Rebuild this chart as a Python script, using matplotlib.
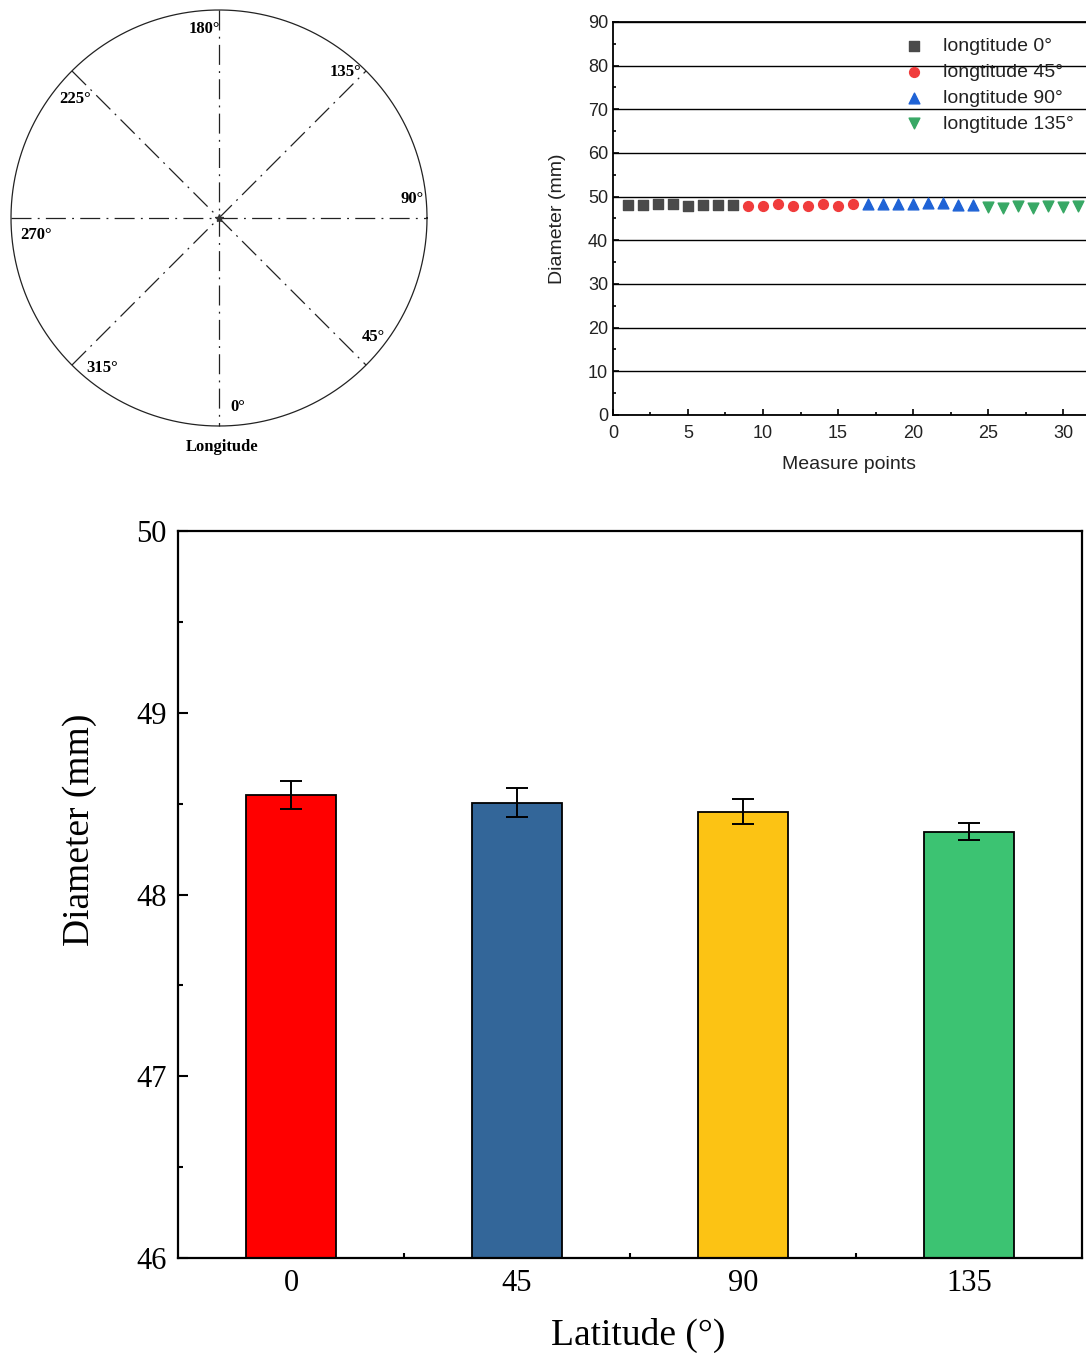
import numpy as np
import matplotlib
matplotlib.use("Agg")
import matplotlib.pyplot as plt
from matplotlib.ticker import MultipleLocator

# longitude sketch
lon_angles = [0, 45, 90, 135, 180, 225, 270, 315]
lon_labels = ["0°", "45°", "90°", "135°", "180°", "225°", "270°", "315°"]
# label anchor positions relative to the centre, in units of the radius
lon_label_pos = [(0.09, -0.91), (0.74, -0.57), (0.93, 0.09), (0.61, 0.70),
                 (-0.07, 0.91), (-0.69, 0.57), (-0.88, -0.08), (-0.56, -0.72)]

# measured diameters per point, 8 points per longitude
points_0 = [1, 2, 3, 4, 5, 6, 7, 8]
diam_0 = [48.2, 48.2, 48.4, 48.4, 47.9, 48.0, 48.0, 48.0]
points_45 = [9, 10, 11, 12, 13, 14, 15, 16]
diam_45 = [47.95, 47.95, 48.25, 47.95, 47.95, 48.3, 47.9, 48.25]
points_90 = [17, 18, 19, 20, 21, 22, 23, 24]
diam_90 = [48.3, 48.3, 48.3, 48.3, 48.55, 48.55, 48.1, 48.1]
points_135 = [25, 26, 27, 28, 29, 30, 31, 32]
diam_135 = [47.55, 47.4, 47.8, 47.4, 47.8, 47.55, 47.9, 47.6]

# mean diameter per latitude
latitudes = ["0", "45", "90", "135"]
mean_diam = [48.55, 48.505, 48.455, 48.345]
err_diam = [0.077, 0.08, 0.069, 0.047]
bar_colors = ["#ff0000", "#336699", "#fcc314", "#3cc372"]

fig = plt.figure(figsize=(10.86, 13.53), dpi=100)

# ---- top left: sketch of the longitudes
ax0 = fig.add_axes([0.0, 1 - 470 / 1353, 440 / 1086, 470 / 1353])
cx, cy, r = 219, 218, 208
ax0.set_xlim(0, 440)
ax0.set_ylim(470, 0)
ax0.set_aspect("equal")
ax0.axis("off")
t = np.linspace(0, 2 * np.pi, 400)
ax0.plot(cx + r * np.cos(t), cy + r * np.sin(t), color="#222222", lw=0.9)
for a in [0, 45, 90, 135]:
    th = np.deg2rad(a - 90)
    dx, dy = r * np.cos(th), -r * np.sin(th)
    ax0.plot([cx - dx, cx + dx], [cy - dy, cy + dy], color="#222222", lw=0.9,
             linestyle=(0, (16, 5, 1.5, 5)))
ax0.plot(cx, cy, marker="*", color="#333333", ms=6)
sketch_font = dict(family="Liberation Serif", fontweight="bold", fontsize=12)
for lab, (px, py) in zip(lon_labels, lon_label_pos):
    ax0.text(cx + px * r, cy - py * r, lab, ha="center", va="center", **sketch_font)
ax0.text(cx + 3, cy + 229, "Longitude", ha="center", va="center", **sketch_font)

# ---- top right: diameter at each measure point
sans = "Liberation Sans"
ax1 = fig.add_axes([613 / 1086, 1 - 415 / 1353, 472.5 / 1086, 393 / 1353])
ax1.scatter(points_0, diam_0, marker="s", s=46, color="#4a4a4a", label="longtitude 0°", zorder=3)
ax1.scatter(points_45, diam_45, marker="o", s=50, color="#f03c3c", label="longtitude 45°", zorder=3)
ax1.scatter(points_90, diam_90, marker="^", s=60, color="#1f63d6", label="longtitude 90°", zorder=3)
ax1.scatter(points_135, diam_135, marker="v", s=60, color="#38a865", label="longtitude 135°", zorder=3)
ax1.set_xlim(0, 31.5)
ax1.set_ylim(0, 90)
ax1.xaxis.set_major_locator(MultipleLocator(5))
ax1.xaxis.set_minor_locator(MultipleLocator(2.5))
ax1.yaxis.set_major_locator(MultipleLocator(10))
ax1.yaxis.set_minor_locator(MultipleLocator(5))
ax1.grid(axis="y", color="black", lw=1.0)
ax1.tick_params(which="both", direction="in", top=False, right=False, width=1.2)
ax1.tick_params(which="major", length=4, labelsize=13)
ax1.tick_params(axis="x", which="major", pad=7)
ax1.tick_params(which="minor", length=2.5)
for lab in ax1.get_xticklabels() + ax1.get_yticklabels():
    lab.set_family(sans)
    lab.set_color("#222222")
ax1.spines["right"].set_visible(False)
for s in ["left", "bottom", "top"]:
    ax1.spines[s].set_linewidth(1.3)
ax1.set_xlabel("Measure points", family=sans, fontsize=14, color="#222222", labelpad=10)
ax1.set_ylabel("Diameter (mm)", family=sans, fontsize=14, color="#222222", labelpad=16)
leg = ax1.legend(loc="upper right", frameon=False, prop={"family": sans, "size": 14},
                 handletextpad=0.5, labelspacing=0.42, borderaxespad=0.2,
                 bbox_to_anchor=(1.0, 0.99))
for txt in leg.get_texts():
    txt.set_color("#222222")

# ---- bottom: mean diameter per latitude
serif = "Liberation Serif"
ax2 = fig.add_axes([178 / 1086, 1 - 1258 / 1353, 904 / 1086, 727 / 1353])
x = np.arange(len(latitudes))
ax2.bar(x, mean_diam, width=0.4, color=bar_colors, edgecolor="black", linewidth=1.3,
        bottom=0, zorder=2)
ax2.errorbar(x, mean_diam, yerr=err_diam, fmt="none", ecolor="black", elinewidth=1.4,
             capsize=8, capthick=1.4, zorder=3)
ax2.set_xlim(-0.5, 3.5)
ax2.set_ylim(46, 50)
ax2.set_xticks(x)
ax2.set_xticklabels(latitudes)
ax2.set_xticks([0.5, 1.5, 2.5], minor=True)
ax2.yaxis.set_major_locator(MultipleLocator(1))
ax2.yaxis.set_minor_locator(MultipleLocator(0.5))
ax2.tick_params(which="both", direction="in", top=False, right=False, width=1.5)
ax2.tick_params(which="major", length=7, labelsize=22, pad=8)
ax2.tick_params(which="minor", length=3.5)
for lab in ax2.get_xticklabels() + ax2.get_yticklabels():
    lab.set_family(serif)
for s in ax2.spines.values():
    s.set_linewidth(1.6)
ax2.set_xlabel("Latitude (°)", family=serif, fontsize=27)
ax2.set_ylabel("Diameter (mm)", family=serif, fontsize=27)
ax2.yaxis.set_label_coords(-0.09, 0.589)
ax2.xaxis.set_label_coords(0.509, -0.083)

fig.savefig("out.png", dpi=100)
